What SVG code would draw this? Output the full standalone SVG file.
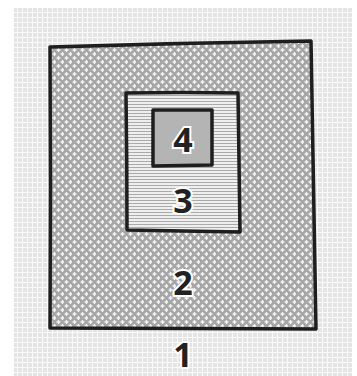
<svg xmlns="http://www.w3.org/2000/svg" width="357" height="376" viewBox="0 0 357 376">
<style>
.edge{stroke:#1e1e1e;stroke-width:3.5;stroke-linejoin:round;stroke-linecap:round}
.lbl{font-family:"Open Sans","Noto Sans",sans-serif;font-weight:bold;font-size:34px;fill:#222;stroke:#fff;stroke-width:4;paint-order:stroke;text-anchor:middle}
</style>
<defs>
<pattern id="p1" width="5" height="5" patternUnits="userSpaceOnUse">
<rect width="5" height="5" fill="#e4e4e4"/>
<rect x="0" y="2" width="5" height="1" fill="#fafafa"/>
<rect x="2" y="0" width="1" height="5" fill="#fafafa"/>
</pattern>
<pattern id="p2" width="8" height="8" patternUnits="userSpaceOnUse">
<rect width="8" height="8" fill="#a6a6a6"/>
<path d="M0.5 2h4M2.5 0v4M4.5 6h4M6.5 4v4" stroke="#f4f4f4" stroke-width="1.4"/>
</pattern>
<pattern id="p3" width="3" height="3" patternUnits="userSpaceOnUse">
<rect width="3" height="3" fill="#efefef"/>
<rect y="2" width="3" height="1" fill="#aaaaaa"/>
</pattern>
</defs>
<g id="region1">
<rect x="14" y="8" width="338" height="368" fill="url(#p1)"/>
<text class="lbl" x="183" y="367">1</text>
</g>
<g id="region2">
<path class="edge" d="M50 47 Q180 43 311 41 Q313 185 316 329 Q183 329 50 328 Q51 187 50 47 Z" fill="url(#p2)"/>
<text class="lbl" x="183" y="295">2</text>
</g>
<g id="region3">
<path class="edge" d="M126 93 Q182 92 238 93 Q239 162 240 232 Q184 231 127 230 Q127 161 126 93 Z" fill="url(#p3)"/>
<text class="lbl" x="183" y="213">3</text>
</g>
<g id="region4">
<path class="edge" d="M153 110 L212 110 L212 165 L153 166 Z" fill="#b4b4b4"/>
<text class="lbl" x="183" y="152">4</text>
</g>
<g id="connectors"/>
</svg>
